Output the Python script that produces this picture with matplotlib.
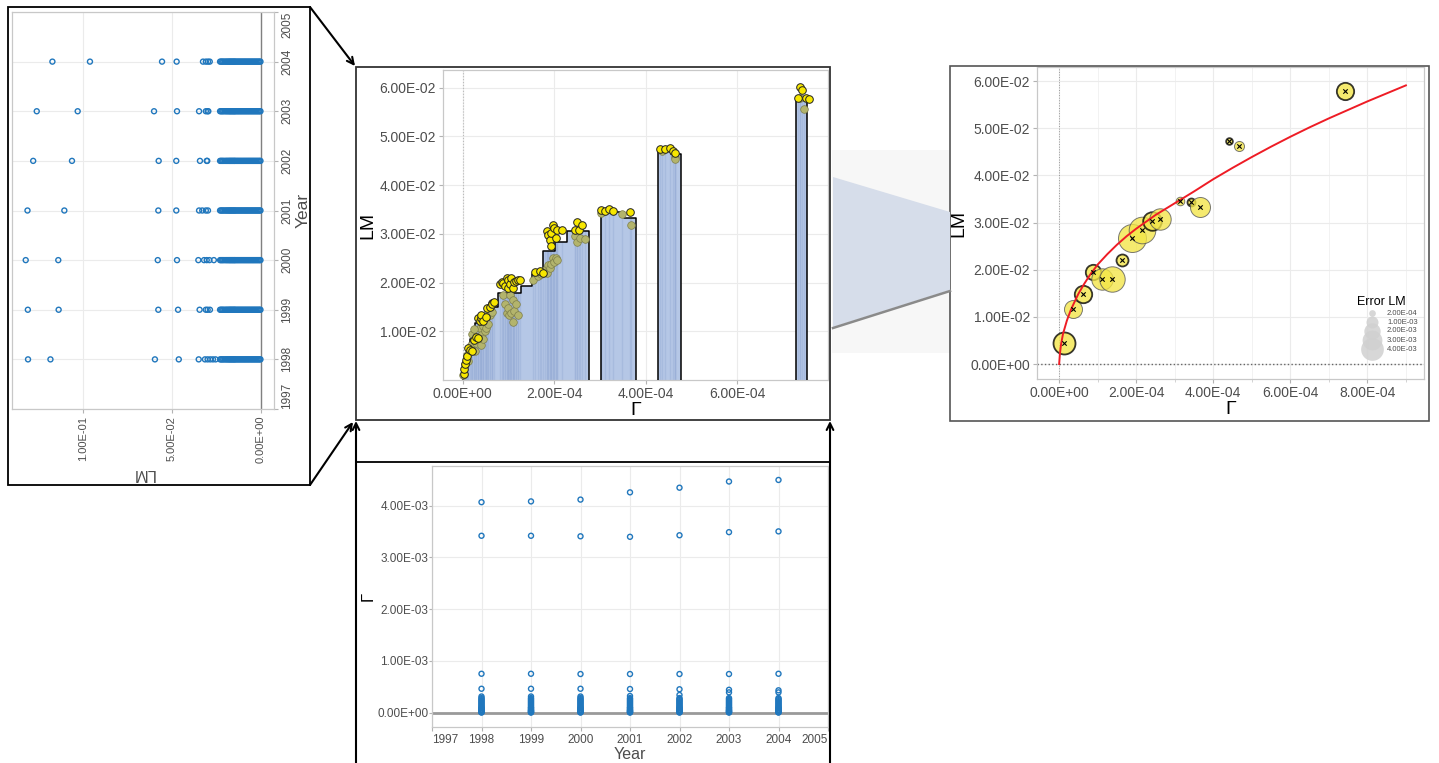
import numpy as np
import matplotlib.pyplot as plt
from matplotlib.ticker import FuncFormatter
from matplotlib.patches import Polygon, Rectangle

plt.rcParams['font.family'] = ['Liberation Sans', 'DejaVu Sans']

# ---------------- data ----------------
years = [1998, 1999, 2000, 2001, 2002, 2003, 2004]
year_ticks = [1997, 1998, 1999, 2000, 2001, 2002, 2003, 2004, 2005]
year_labels = ['1997', '1998', '1999', '2000', '2001', '2002', '2003', '2004', '2005']

# LM per year (left, rotated panel): sparse high values + dense low cluster
lm_upper = [
    [0.1309, 0.1183, 0.0596, 0.0462, 0.0350, 0.0315, 0.0300, 0.0285, 0.0270, 0.0255],
    [0.1310, 0.1137, 0.0577, 0.0466, 0.0345, 0.0310, 0.0300, 0.0287],
    [0.1322, 0.1139, 0.0580, 0.0472, 0.0352, 0.0320, 0.0305, 0.0290, 0.0265],
    [0.1312, 0.1105, 0.0577, 0.0476, 0.0348, 0.0330, 0.0310, 0.0298],
    [0.1280, 0.1062, 0.0575, 0.0476, 0.0343, 0.0305, 0.0302],
    [0.1260, 0.1030, 0.0601, 0.0472, 0.0348, 0.0310, 0.0300, 0.0296],
    [0.1172, 0.0961, 0.0556, 0.0474, 0.0326, 0.0310, 0.0298, 0.0288],
]
lm_low = [0.0230, 0.0224, 0.0218, 0.0212, 0.0205, 0.0198, 0.0192, 0.0186, 0.0180, 0.0175,
          0.0170, 0.0165, 0.0160, 0.0155, 0.0150, 0.0146, 0.0140, 0.0134, 0.0128, 0.0122,
          0.0116, 0.0110, 0.0104, 0.0098, 0.0092, 0.0086, 0.0080, 0.0074, 0.0068, 0.0062,
          0.0056, 0.0050, 0.0044, 0.0038, 0.0032, 0.0026, 0.0020, 0.0014, 0.0008, 0.0003]

# Gamma per year (bottom panel), in units of 1e-3
gamma_upper = [
    [4.07, 3.42, 0.75, 0.46, 0.31],
    [4.085, 3.42, 0.75, 0.46, 0.31],
    [4.12, 3.41, 0.745, 0.46, 0.31],
    [4.26, 3.40, 0.745, 0.455, 0.32],
    [4.35, 3.43, 0.745, 0.45, 0.34],
    [4.47, 3.49, 0.745, 0.44, 0.39],
    [4.50, 3.505, 0.75, 0.43, 0.39],
]
gamma_low = [0.28, 0.26, 0.24, 0.22, 0.20, 0.18, 0.16, 0.14, 0.12, 0.10,
             0.09, 0.08, 0.06, 0.05, 0.04, 0.03, 0.02, 0.01, 0.005, 0.0]

# centre panel: step bars (Gamma x1e-4, LM x1e-2)
step_edges = [
    [0.0, 0.04, 0.09, 0.16, 0.27, 0.50, 0.765, 1.274, 1.508, 1.762, 2.018, 2.273, 2.768],
    [3.017, 3.53, 3.78],
    [4.26, 4.43, 4.55, 4.77],
    [7.28, 7.53],
]
step_lm = [
    [0.15, 0.40, 0.60, 0.85, 1.17, 1.50, 1.78, 1.92, 2.17, 2.65, 2.84, 3.05],
    [3.44, 3.32],
    [4.74, 4.69, 4.63],
    [5.80],
]

yellow_gamma = [0.02, 0.03, 0.05, 0.07, 0.10, 0.12, 0.15, 0.20, 0.25, 0.30, 0.34, 0.34, 0.37, 0.39,
                0.41, 0.45, 0.50, 0.53, 0.60, 0.63, 0.65, 0.68,
                0.815, 0.85, 0.89, 0.93, 0.96, 0.98, 1.00, 1.04, 1.06, 1.10, 1.13, 1.17, 1.20, 1.25,
                1.58, 1.69, 1.75,
                1.84, 1.87, 1.90, 1.94, 1.94, 1.97, 2.00, 2.04, 2.07, 2.18,
                2.45, 2.49, 2.53, 2.60,
                3.02, 3.10, 3.19, 3.29, 3.65,
                4.31, 4.42, 4.53, 4.60, 4.64,
                7.36, 7.41, 7.32, 7.50, 7.56]
yellow_lm = [0.12, 0.22, 0.32, 0.42, 0.50, 0.66, 0.62, 0.60, 0.82, 0.88, 0.86, 1.27, 1.21, 1.27,
             1.34, 1.22, 1.30, 1.47, 1.50, 1.58, 1.55, 1.60,
             1.96, 2.02, 1.99, 1.92, 2.09, 1.89, 2.06, 1.96, 2.09, 1.89, 2.02, 2.03, 2.06, 2.05,
             2.22, 2.23, 2.20,
             3.05, 2.98, 2.88, 3.02, 2.74, 3.18, 3.11, 2.91, 3.08, 3.07,
             3.08, 3.24, 3.07, 3.19,
             3.48, 3.46, 3.51, 3.47, 3.44,
             4.74, 4.74, 4.75, 4.70, 4.65,
             6.02, 5.95, 5.78, 5.78, 5.76]

olive_gamma = [0.01, 0.05, 0.09, 0.12, 0.19, 0.26, 0.30, 0.34, 0.37, 0.41, 0.41, 0.44, 0.48, 0.52,
               0.52, 0.56, 0.56, 0.59, 0.63, 0.20, 0.25, 0.45,
               0.89, 0.93, 0.96, 0.98, 1.02, 1.04, 1.06, 1.10, 1.10, 1.13, 1.17, 1.20,
               1.54, 1.65, 1.71, 1.79, 1.84, 1.87, 1.91, 1.94, 1.98, 2.00, 2.04, 2.07,
               2.45, 2.49, 2.56, 2.68,
               3.03, 3.48, 3.68,
               4.35, 4.63, 4.64,
               7.37, 7.45]
olive_lm = [0.11, 0.32, 0.52, 0.40, 0.72, 0.59, 0.76, 0.86, 1.07, 0.72, 0.93, 1.10, 1.00, 1.07,
            1.27, 1.14, 1.40, 1.34, 1.40, 0.95, 1.05, 0.85,
            1.75, 1.55, 1.37, 1.48, 1.34, 1.75, 1.37, 1.19, 1.65, 1.41, 1.55, 1.34,
            2.06, 2.13, 2.18, 2.26, 2.20, 2.36, 2.29, 2.39, 2.50, 2.43, 2.50, 2.46,
            2.95, 2.84, 2.91, 2.90,
            3.43, 3.41, 3.18,
            4.70, 4.58, 4.54,
            5.78, 5.56]

# right panel: bubbles (Gamma, LM, error LM, highlighted edge)
fit_gamma = [1.22e-5, 3.64e-5, 6.23e-5, 8.83e-5, 1.117e-4, 1.377e-4, 1.636e-4, 1.88e-4, 2.14e-4,
             2.40e-4, 2.62e-4, 3.13e-4, 3.41e-4, 3.65e-4, 4.42e-4, 4.66e-4, 7.42e-4]
fit_lm = [0.00452, 0.0116, 0.01477, 0.01943, 0.0180, 0.01795, 0.02205, 0.02664, 0.0284,
          0.0304, 0.0307, 0.03456, 0.03434, 0.0332, 0.0472, 0.0463, 0.0579]
fit_err = [3.75e-3, 2.45e-3, 2.29e-3, 1.75e-3, 3.54e-3, 5.05e-3, 1.0e-3, 6.17e-3, 5.56e-3,
           2.63e-3, 3.54e-3, 0.43e-3, 0.35e-3, 3.07e-3, 0.20e-3, 0.65e-3, 2.26e-3]
fit_edge = [True, False, True, True, False, False, True, False, False,
            True, False, False, True, False, True, False, True]

# fitted curve
curve_gamma = [0.0, 0.2e-5, 0.5e-5, 1.0e-5, 2.0e-5, 3.0e-5, 4.0e-5, 5.0e-5, 6.5e-5, 8.0e-5,
               1.0e-4, 1.25e-4, 1.5e-4, 1.75e-4, 2.0e-4, 2.5e-4, 3.0e-4, 3.5e-4, 4.0e-4,
               4.5e-4, 5.0e-4, 5.5e-4, 6.0e-4, 6.5e-4, 7.0e-4, 7.5e-4, 8.0e-4, 8.5e-4, 9.0e-4]
curve_lm = [0.0, 0.0022, 0.0042, 0.0064, 0.0092, 0.0114, 0.0132, 0.0149, 0.0170, 0.0189,
            0.0211, 0.0233, 0.0253, 0.0271, 0.0287, 0.0316, 0.0341, 0.0366, 0.0392,
            0.0416, 0.0439, 0.0461, 0.0482, 0.0502, 0.0521, 0.0539, 0.0557, 0.0574, 0.0591]

legend_err = [2e-4, 1e-3, 2e-3, 3e-3, 4e-3]

# ---------------- figure ----------------
W, H = 1439, 763
fig = plt.figure(figsize=(W / 100, H / 100), dpi=100)
sci = FuncFormatter(lambda v, p: f"{v:.2E}")
blue = '#2077bd'
grey_txt = '#4d4d4d'


def add_ax(x0, y0, x1, y1):
    return fig.add_axes([x0 / W, 1 - y1 / H, (x1 - x0) / W, (y1 - y0) / H])


def light(ax, size):
    for s in ax.spines.values():
        s.set_color('#c8c8c8')
        s.set_linewidth(0.9)
    ax.tick_params(colors='#b3b3b3', labelcolor=grey_txt, labelsize=size,
                   length=3, width=0.8, pad=2)
    ax.grid(True, color='#ebebeb', lw=0.8)
    ax.set_axisbelow(True)


def bubble_s(err):
    d = np.sqrt(20.2 + 123700 * np.asarray(err))  # diameter in px
    return (0.72 * d) ** 2


# left panel (rotated LM vs Year)
ax_l = add_ax(12, 12, 274, 409)
light(ax_l, 8)
for yr, vals in zip(years, lm_upper):
    v = vals + lm_low
    ax_l.scatter(v, [yr] * len(v), s=13, facecolors='none', edgecolors=blue, linewidths=1, zorder=3)
ax_l.axvline(0, color='#808080', lw=1, zorder=2)
ax_l.set_xlim(0.1399, -0.0073)
ax_l.set_ylim(1997, 2005)
ax_l.set_xticks([0.1, 0.05, 0.0])
ax_l.xaxis.set_major_formatter(sci)
ax_l.tick_params(axis='x', labelrotation=90)
ax_l.yaxis.tick_right()
ax_l.set_yticks(year_ticks)
ax_l.set_yticklabels(year_labels, rotation=90, va='center', fontsize=8.5)
ax_l.get_yticklabels()[0].set_va('bottom')
ax_l.get_yticklabels()[-1].set_va('top')
ax_l.set_xlabel('LM', rotation=180, fontsize=12, color=grey_txt, labelpad=2)
ax_l.yaxis.set_label_position('right')
ax_l.set_ylabel('Year', rotation=90, fontsize=12.5, color=grey_txt, labelpad=2)

# bottom panel (Gamma vs Year)
ax_b = add_ax(432, 466, 828, 727)
light(ax_b, 8.5)
ax_b.tick_params(axis='y', length=2, pad=0.5)
for yr, vals in zip(years, gamma_upper):
    v = np.array(vals + gamma_low) * 1e-3
    ax_b.scatter([yr] * len(v), v, s=13, facecolors='none', edgecolors=blue, linewidths=1, zorder=3)
ax_b.axhline(0, color='#9a9a9a', lw=2, zorder=2)
ax_b.set_xlim(1997, 2005)
ax_b.set_ylim(-0.28e-3, 4.77e-3)
ax_b.set_xticks(year_ticks)
ax_b.set_xticklabels(year_labels, fontsize=8.5)
ax_b.get_xticklabels()[0].set_ha('left')
ax_b.get_xticklabels()[-1].set_ha('right')
ax_b.set_yticks([0, 1e-3, 2e-3, 3e-3, 4e-3])
ax_b.yaxis.set_major_formatter(sci)
ax_b.set_xlabel('Year', fontsize=11.5, color=grey_txt, labelpad=1)
ax_b.set_ylabel('Γ', fontsize=12, color='black', labelpad=1)

# centre panel (bars of LM vs Gamma)
ax_c = add_ax(443, 70, 828, 380)
light(ax_c, 10)
ax_c.axvline(0, color='#bbbbbb', lw=0.8, ls=':', zorder=1)
all_g = np.array(yellow_gamma + olive_gamma) * 1e-4
for edges, lms in zip(step_edges, step_lm):
    e = np.array(edges) * 1e-4
    h = np.array(lms) * 1e-2
    ax_c.fill_between(e, np.append(h, h[-1]), step='post', color='#b5c7e6', lw=0, zorder=2)
    inside = all_g[(all_g >= e[0]) & (all_g < e[-1])]
    idx = np.clip(np.searchsorted(e, inside, side='right') - 1, 0, len(h) - 1)
    ax_c.vlines(inside, 0, h[idx], color='#97add6', lw=1.0, alpha=0.45, zorder=2.5)
    xs = np.repeat(e, 2)
    ys = np.concatenate([[0], np.repeat(h, 2), [0]])
    ax_c.plot(xs, ys, color='black', lw=1.1, zorder=3)
ax_c.scatter(np.array(olive_gamma) * 1e-4, np.array(olive_lm) * 1e-2, s=30, color='#b3b46c',
             edgecolors='#7d7d4a', linewidths=0.5, zorder=4)
ax_c.scatter(np.array(yellow_gamma) * 1e-4, np.array(yellow_lm) * 1e-2, s=30, color='#f7e700',
             edgecolors='#222222', linewidths=0.7, zorder=5)
ax_c.set_xlim(-0.43e-4, 7.98e-4)
ax_c.set_ylim(0, 0.0636)
ax_c.set_xticks([0, 2e-4, 4e-4, 6e-4])
ax_c.set_yticks([0.01, 0.02, 0.03, 0.04, 0.05, 0.06])
ax_c.xaxis.set_major_formatter(sci)
ax_c.yaxis.set_major_formatter(sci)
ax_c.set_xlabel('Γ', fontsize=14, color='black', labelpad=1)
ax_c.set_ylabel('LM', fontsize=14, color='black', labelpad=2)

# right panel (bubbles + fit)
ax_r = add_ax(1037, 67, 1424, 379)
light(ax_r, 10)
ax_r.set_xticks([1e-4, 3e-4, 5e-4, 7e-4, 9e-4], minor=True)
ax_r.grid(True, which='minor', axis='x', color='#f2f2f2', lw=0.7)
ax_r.tick_params(which='minor', length=2, color='#cccccc')
ax_r.axvline(0, color='#999999', lw=0.7, ls=':', zorder=1)
ax_r.axhline(0, color='#666666', lw=1.0, ls=':', zorder=1)
for g, lm, er, hl in zip(fit_gamma, fit_lm, fit_err, fit_edge):
    ax_r.scatter(g, lm, s=bubble_s(er), color='#f3e547', alpha=0.78,
                 edgecolors='black' if hl else '#555555', linewidths=1.3 if hl else 0.7, zorder=3)
ax_r.plot(curve_gamma, curve_lm, color='#ee1c25', lw=1.4, zorder=4)
ax_r.scatter(fit_gamma, fit_lm, marker='x', s=10, color='black', linewidths=0.8, zorder=5)
ax_r.set_xlim(-0.575e-4, 9.47e-4)
ax_r.set_ylim(-0.00318, 0.063)
ax_r.set_xticks([0, 2e-4, 4e-4, 6e-4, 8e-4])
ax_r.set_yticks([0, 0.01, 0.02, 0.03, 0.04, 0.05, 0.06])
ax_r.xaxis.set_major_formatter(sci)
ax_r.yaxis.set_major_formatter(sci)
ax_r.set_xlabel('Γ', fontsize=14, color='black', labelpad=1)
ax_r.set_ylabel('LM', fontsize=14, color='black', labelpad=2)

# overlay: frames, arrows, connector, legend
ov = fig.add_axes([0, 0, 1, 1])
ov.set_xlim(0, W)
ov.set_ylim(H, 0)
ov.axis('off')

ov.add_patch(Rectangle((832, 150), 118, 203, color='#f7f7f7', lw=0, zorder=1))
ov.add_patch(Polygon([(833, 177), (950, 212), (950, 290), (833, 327)], closed=True,
                     color='#d6ddea', lw=0, zorder=2))
ov.plot([833, 950], [328, 291], color='#8a8a8a', lw=1.8, zorder=3)

ov.add_patch(Rectangle((8, 7), 302, 478, fill=False, ec='black', lw=1.3))
ov.add_patch(Rectangle((356, 67), 474, 353, fill=False, ec='#333333', lw=1.3))
ov.add_patch(Rectangle((950, 66), 479, 355, fill=False, ec='#555555', lw=1.2))
ov.plot([356, 830], [462, 462], color='black', lw=1.3)

arrow = dict(arrowstyle='->', color='black', lw=1.5, mutation_scale=12, shrinkA=0, shrinkB=0)
ov.annotate('', xy=(355, 66), xytext=(310, 7), arrowprops=arrow)
ov.annotate('', xy=(353, 422), xytext=(310, 485), arrowprops=arrow)
ov.annotate('', xy=(356, 421), xytext=(356, 763), arrowprops=arrow)
ov.annotate('', xy=(830, 421), xytext=(830, 763), arrowprops=arrow)

# size legend of right panel
ov.text(1357, 302, 'Error LM', fontsize=9, color='black', ha='left', va='center')
leg_y = [313.3, 322.3, 331.0, 340.3, 349.3]
for er, yy in list(zip(legend_err, leg_y))[::-1]:
    ov.scatter(1371.7, yy, s=bubble_s(er), color='#d0d0d0', alpha=0.85, lw=0, zorder=5)
for er, yy in zip(legend_err, leg_y):
    ov.text(1387, yy, f"{er:.2E}", fontsize=5.5, color=grey_txt, ha='left', va='center', zorder=6)

fig.savefig('out.png', dpi=100)
